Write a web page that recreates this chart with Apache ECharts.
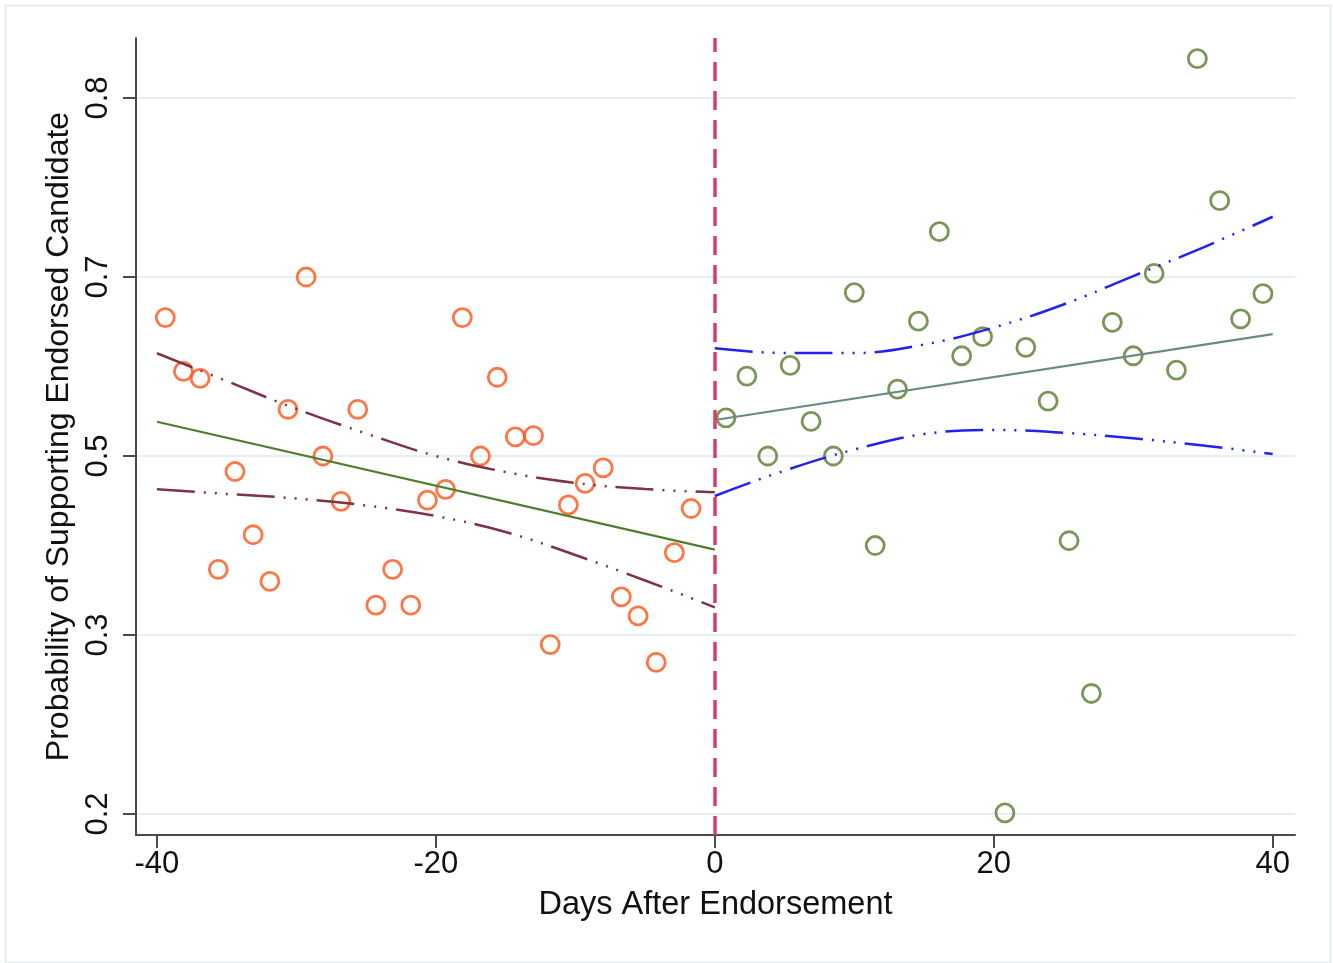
<!DOCTYPE html>
<html>
<head>
<meta charset="utf-8">
<script src="https://cdn.jsdelivr.net/npm/echarts@6/dist/echarts.min.js"></script>
<style>
  html, body { margin: 0; padding: 0; background: #ffffff; }
  #chart { width: 1333px; height: 963px; }
</style>
</head>
<body>
<div id="chart"></div>
<script>
// ---- Data ----
const preDays = [-39.4,-38.1,-36.9,-35.6,-34.4,-33.1,-31.9,-30.6,-29.3,-28.1,-26.8,-25.6,-24.3,-23.1,-21.8,-20.6,-19.3,-18.1,-16.8,-15.6,-14.3,-13.0,-11.8,-10.5,-9.3,-8.0,-6.7,-5.5,-4.2,-2.9,-1.7];
const preProb = [0.616,0.571,0.565,0.405,0.487,0.434,0.395,0.539,0.650,0.500,0.462,0.539,0.375,0.405,0.375,0.463,0.472,0.616,0.500,0.566,0.516,0.517,0.342,0.459,0.477,0.490,0.382,0.366,0.327,0.419,0.456];

const postDays = [0.8,2.3,3.8,5.4,6.9,8.5,10.0,11.5,13.1,14.6,16.1,17.7,19.2,20.8,22.3,23.9,25.4,27.0,28.5,30.0,31.5,33.1,34.6,36.2,37.7,39.3];
const postProb = [0.532,0.567,0.500,0.576,0.529,0.500,0.637,0.425,0.556,0.613,0.688,0.584,0.600,0.201,0.591,0.546,0.429,0.301,0.612,0.584,0.653,0.572,0.833,0.714,0.615,0.636];

// fitted lines
const preFitDays = [-40, 0];
const preFit = [0.5287, 0.4216];
const postFitDays = [0, 40];
const postFit = [0.5302, 0.6022];

// confidence bands
const preCIDays = [-40,-35,-30,-25,-20,-15,-10,-5,0];
const preUpper = [0.5861,0.5628,0.5394,0.5189,0.5000,0.4866,0.4774,0.4723,0.4696];
const preLower = [0.4721,0.4682,0.4644,0.4585,0.4497,0.4363,0.4170,0.3957,0.3732];

const postCIDays = [0,5,10,15,20,25,30,35,40];
const postUpper = [0.5903,0.5863,0.5863,0.5934,0.6077,0.6270,0.6508,0.6747,0.7005];
const postLower = [0.4665,0.4878,0.5054,0.5184,0.5218,0.5195,0.5148,0.5088,0.5017];

// endorsement day
const endorseDay = 0;

// axes
const xTicks = [-40, -20, 0, 20, 40];
const yTickValues = [0.2, 0.35, 0.5, 0.65, 0.8];
const yTickLabels = ['0.2', '0.3', '0.5', '0.7', '0.8'];

// ---- helpers ----
const pairs = (xs, ys) => xs.map((x, i) => [x, ys[i]]);
const FONT = 'Liberation Sans';
const ciDash = [38, 9, 2, 9, 2, 9, 2, 9];

const chart = echarts.init(document.getElementById('chart'), null, { renderer: 'canvas' });

const option = {
  animation: false,
  backgroundColor: '#ffffff',
  textStyle: { fontFamily: FONT },
  graphic: [{
    type: 'rect',
    left: 3, top: 3,
    shape: { width: 1325, height: 957 },
    style: { fill: 'none', stroke: '#e6edf0', lineWidth: 2 },
    silent: true, z: -10
  }],
  grid: { left: 136, right: 38, top: 38, bottom: 128, containLabel: false },
  xAxis: {
    type: 'value',
    min: -41.5, max: 41.6,
    name: 'Days After Endorsement',
    nameLocation: 'middle',
    nameGap: 54,
    nameTextStyle: { fontSize: 32.5, color: '#111', fontFamily: FONT },
    axisLine: { show: true, onZero: false, lineStyle: { color: '#4a4a4a', width: 2 } },
    axisTick: { show: true, customValues: xTicks, length: 13, lineStyle: { color: '#4a4a4a', width: 2 } },
    axisLabel: {
      customValues: xTicks, margin: 14, fontSize: 31, color: '#111', fontFamily: FONT,
      formatter: v => String(v)
    },
    splitLine: { show: false }
  },
  yAxis: {
    type: 'value',
    min: 0.1824, max: 0.8503,
    name: 'Probability of Supporting Endorsed Candidate',
    nameLocation: 'middle',
    nameGap: 58,
    nameTextStyle: { fontSize: 32, color: '#111', fontFamily: FONT },
    axisLine: { show: true, onZero: false, lineStyle: { color: '#4a4a4a', width: 2 } },
    axisTick: { show: true, customValues: yTickValues, length: 13, lineStyle: { color: '#4a4a4a', width: 2 } },
    axisLabel: {
      customValues: yTickValues, rotate: 90, margin: 22, fontSize: 31, color: '#111', fontFamily: FONT,
      formatter: v => {
        const i = yTickValues.findIndex(t => Math.abs(t - v) < 1e-9);
        return i >= 0 ? yTickLabels[i] : '';
      }
    },
    splitLine: { show: true, lineStyle: { color: '#e6f0f1', width: 2 } }
  },
  series: [
    {
      name: 'pre', type: 'scatter', z: 2,
      data: pairs(preDays, preProb),
      symbol: 'circle', symbolSize: 18,
      itemStyle: { color: 'rgba(0,0,0,0)', borderColor: '#ff5216', borderWidth: 2.8 }
    },
    {
      name: 'post', type: 'scatter', z: 2,
      data: pairs(postDays, postProb),
      symbol: 'circle', symbolSize: 18,
      itemStyle: { color: 'rgba(0,0,0,0)', borderColor: '#5a7a2e', borderWidth: 2.8 }
    },
    {
      name: 'preFit', type: 'line', z: 3, symbol: 'none',
      data: pairs(preFitDays, preFit),
      lineStyle: { color: '#4f7d2c', width: 2.2 }
    },
    {
      name: 'postFit', type: 'line', z: 3, symbol: 'none',
      data: pairs(postFitDays, postFit),
      lineStyle: { color: '#6a8a82', width: 2.2 }
    },
    {
      name: 'preUpper', type: 'line', z: 3, symbol: 'none', smooth: 0.4,
      data: pairs(preCIDays, preUpper),
      lineStyle: { color: '#7e3242', width: 2.5, type: ciDash }
    },
    {
      name: 'preLower', type: 'line', z: 3, symbol: 'none', smooth: 0.4,
      data: pairs(preCIDays, preLower),
      lineStyle: { color: '#7e3242', width: 2.5, type: ciDash }
    },
    {
      name: 'postUpper', type: 'line', z: 3, symbol: 'none', smooth: 0.4,
      data: pairs(postCIDays, postUpper),
      lineStyle: { color: '#2222ee', width: 2.5, type: ciDash }
    },
    {
      name: 'postLower', type: 'line', z: 3, symbol: 'none', smooth: 0.4,
      data: pairs(postCIDays, postLower),
      lineStyle: { color: '#2222ee', width: 2.5, type: ciDash }
    },
    {
      name: 'endorse', type: 'line', z: 4, data: [], symbol: 'none',
      markLine: {
        silent: true, symbol: ['none', 'none'], label: { show: false },
        lineStyle: { color: '#d4406a', width: 3.5, type: [19, 10] },
        data: [{ xAxis: endorseDay }]
      }
    }
  ]
};

chart.setOption(option);
</script>
</body>
</html>
